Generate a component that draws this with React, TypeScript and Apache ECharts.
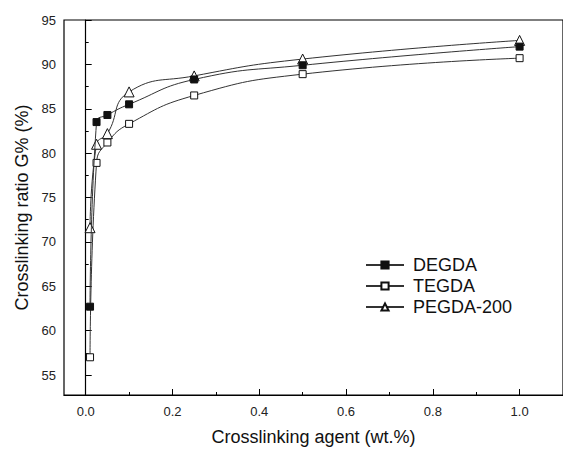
import React, { useEffect, useRef } from "react";
import * as echarts from "echarts";

const xValues = [0.01, 0.025, 0.05, 0.1, 0.25, 0.5, 1.0];
const degda = [62.7, 83.5, 84.3, 85.5, 88.3, 89.9, 92.0];
const tegda = [57.0, 78.9, 81.2, 83.3, 86.5, 88.9, 90.7];
const pegda = [71.6, 81.0, 82.2, 86.9, 88.7, 90.6, 92.7];

const xTickValues = [0, 0.1, 0.2, 0.3, 0.4, 0.5, 0.6, 0.7, 0.8, 0.9, 1.0];
const xLabelValues = [0, 0.2, 0.4, 0.6, 0.8, 1.0];
const yTickValues = [55, 57.5, 60, 62.5, 65, 67.5, 70, 72.5, 75, 77.5, 80, 82.5, 85, 87.5, 90, 92.5, 95];
const yLabelValues = [55, 60, 65, 70, 75, 80, 85, 90, 95];

const FONT = "Liberation Sans, Arial, sans-serif";

export default function App() {
  const ref = useRef<HTMLDivElement>(null);
  useEffect(() => {
    if (!ref.current) return;
    const chart = echarts.init(ref.current, undefined, { renderer: "svg" });
    const mk = (arr: number[]) => xValues.map((x, i) => [x, arr[i]]);
    const lineStyle = { color: "#333", width: 1 };
    chart.setOption({
      animation: false,
      backgroundColor: "#fff",
      grid: {
        left: 64,
        right: -10,
        top: 20,
        bottom: 52.5,
        show: true,
        borderColor: "#000",
        borderWidth: 1.2,
      },
      legend: {
        orient: "vertical",
        left: 360,
        top: 251,
        itemWidth: 38,
        itemHeight: 9,
        itemGap: 3,
        textStyle: { fontFamily: FONT, fontSize: 18, color: "#111", padding: [0, 0, 0, 4] },
        data: ["DEGDA", "TEGDA", "PEGDA-200"],
      },
      xAxis: [
        {
          type: "value",
          min: -0.05,
          max: 1.1,
          name: "Crosslinking agent (wt.%)",
          nameLocation: "middle",
          nameGap: 33,
          nameTextStyle: { fontFamily: FONT, fontSize: 18, color: "#111" },
          axisLine: { show: true, lineStyle: { color: "#000", width: 1.2 } },
          axisTick: { show: true, inside: true, length: 3, customValues: xTickValues, lineStyle: { color: "#000" } },
          axisLabel: {
            customValues: xLabelValues,
            fontFamily: FONT,
            fontSize: 13,
            color: "#222",
            margin: 10,
            formatter: (v: number) => v.toFixed(1),
          },
          splitLine: { show: false },
        },
        {
          type: "value",
          min: -0.05,
          max: 1.1,
          position: "bottom",
          axisLine: { show: false },
          axisTick: { show: true, inside: true, length: 6, customValues: xLabelValues, lineStyle: { color: "#000" } },
          axisLabel: { show: false },
          splitLine: { show: false },
        },
      ],
      yAxis: [
        {
          type: "value",
          min: 52.75,
          max: 95,
          name: "Crosslinking ratio G% (%)",
          nameLocation: "middle",
          nameGap: 30,
          nameTextStyle: { fontFamily: FONT, fontSize: 18, color: "#111" },
          axisLine: { show: true, lineStyle: { color: "#000", width: 1.2 } },
          axisTick: { show: true, inside: true, length: 3, customValues: yTickValues, lineStyle: { color: "#000" } },
          axisLabel: {
            customValues: yLabelValues,
            fontFamily: FONT,
            fontSize: 13,
            color: "#222",
            margin: 8,
          },
          splitLine: { show: false },
        },
        {
          type: "value",
          min: 52.75,
          max: 95,
          position: "left",
          axisLine: { show: false },
          axisTick: { show: true, inside: true, length: 6, customValues: yLabelValues, lineStyle: { color: "#000" } },
          axisLabel: { show: false },
          splitLine: { show: false },
        },
      ],
      series: [
        {
          name: "DEGDA",
          type: "line",
          data: mk(degda),
          smooth: 0.5,
          symbol: "rect",
          symbolSize: 7,
          itemStyle: { color: "#111", borderColor: "#111", borderWidth: 1 },
          lineStyle,
          z: 3,
        },
        {
          name: "TEGDA",
          type: "line",
          data: mk(tegda),
          smooth: 0.5,
          symbol: "rect",
          symbolSize: 7,
          itemStyle: { color: "#fff", borderColor: "#111", borderWidth: 1 },
          lineStyle,
          z: 2,
        },
        {
          name: "PEGDA-200",
          type: "line",
          data: mk(pegda),
          smooth: 0.5,
          symbol: "triangle",
          symbolSize: 10,
          itemStyle: { color: "#fff", borderColor: "#111", borderWidth: 1 },
          lineStyle,
          z: 2,
        },
      ],
    });
    return () => chart.dispose();
  }, []);
  return (
    <div
      ref={ref}
      style={{ position: "absolute", left: 0, top: 0, width: 563, height: 451, overflow: "hidden" }}
    />
  );
}
